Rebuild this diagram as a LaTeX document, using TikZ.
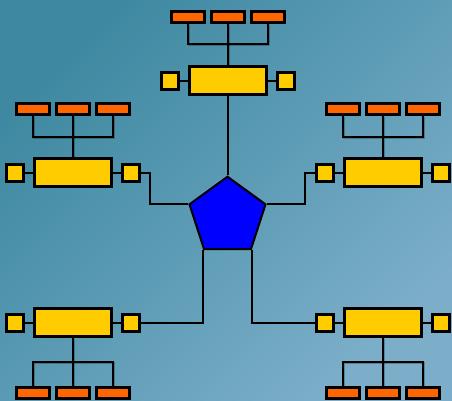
\documentclass[tikz,border=0pt]{standalone}
\usepackage{tikz}
\usetikzlibrary{shapes.geometric}
\usetikzlibrary{math}

\definecolor{BgDark}{RGB}{62,137,161}
\definecolor{BgLight}{RGB}{124,174,201}
\definecolor{BoxYellow}{RGB}{255,204,0}
\definecolor{LeafOrange}{RGB}{255,102,0}

\begin{document}
\begin{tikzpicture}[x=1pt,y=-1pt,
    bigbox/.style={draw=black, fill=BoxYellow, line width=3pt, inner sep=0pt,
        minimum width=77pt, minimum height=28pt},
    sidebox/.style={draw=black, fill=BoxYellow, line width=3pt, inner sep=0pt,
        minimum size=17pt},
    leafbox/.style={draw=black, fill=LeafOrange, line width=3pt, inner sep=0pt,
        minimum width=33pt, minimum height=11pt},
    hub/.style={draw=black, fill=blue, line width=2pt, inner sep=0pt,
        regular polygon, regular polygon sides=5, minimum size=80pt},
    link/.style={black, line width=2pt},
    tree/.style={black, line width=2pt,
        preaction={draw, black, opacity=0.25, line width=2pt,
            transform canvas={shift={(1pt,-1pt)}}}},
    ]

% Position settings
\tikzmath{
    \TopX = 227.5;
    \TopY = 80.5;
    \LeftX = 72.5;
    \RightX = 382.5;
    \UpperY = 172.8;
    \LowerY = 322.8;
    \HubY = 216.7;
    \SideShift = 58;
    \LeafStep = 40;
    \LeafUp = 64;
    \LeafDown = 70;
}

% Background
\useasboundingbox (0,0) rectangle (452,400);
\shade [top color=BgDark, bottom color=BgLight, shading angle=45]
    (0,0) rectangle (452,400);

% Centre pentagon
\node [hub] (Hub) at (\TopX,\HubY) {};

% Top cluster
\node [bigbox] (Top) at (\TopX,\TopY) {};
\node [sidebox] (TopL) at (\TopX-\SideShift,\TopY) {};
\node [sidebox] (TopR) at (\TopX+\SideShift,\TopY) {};
\node [leafbox] (TopA) at (\TopX-\LeafStep,\TopY-\LeafUp) {};
\node [leafbox] (TopB) at (\TopX,\TopY-\LeafUp) {};
\node [leafbox] (TopC) at (\TopX+\LeafStep,\TopY-\LeafUp) {};

% Upper left cluster
\node [bigbox] (UL) at (\LeftX,\UpperY) {};
\node [sidebox] (ULL) at (\LeftX-\SideShift,\UpperY) {};
\node [sidebox] (ULR) at (\LeftX+\SideShift,\UpperY) {};
\node [leafbox] (ULA) at (\LeftX-\LeafStep,\UpperY-\LeafUp) {};
\node [leafbox] (ULB) at (\LeftX,\UpperY-\LeafUp) {};
\node [leafbox] (ULC) at (\LeftX+\LeafStep,\UpperY-\LeafUp) {};

% Upper right cluster
\node [bigbox] (UR) at (\RightX,\UpperY) {};
\node [sidebox] (URL) at (\RightX-\SideShift,\UpperY) {};
\node [sidebox] (URR) at (\RightX+\SideShift,\UpperY) {};
\node [leafbox] (URA) at (\RightX-\LeafStep,\UpperY-\LeafUp) {};
\node [leafbox] (URB) at (\RightX,\UpperY-\LeafUp) {};
\node [leafbox] (URC) at (\RightX+\LeafStep,\UpperY-\LeafUp) {};

% Lower left cluster
\node [bigbox] (LL) at (\LeftX,\LowerY) {};
\node [sidebox] (LLL) at (\LeftX-\SideShift,\LowerY) {};
\node [sidebox] (LLR) at (\LeftX+\SideShift,\LowerY) {};
\node [leafbox] (LLA) at (\LeftX-\LeafStep,\LowerY+\LeafDown) {};
\node [leafbox] (LLB) at (\LeftX,\LowerY+\LeafDown) {};
\node [leafbox] (LLC) at (\LeftX+\LeafStep,\LowerY+\LeafDown) {};

% Lower right cluster
\node [bigbox] (LR) at (\RightX,\LowerY) {};
\node [sidebox] (LRL) at (\RightX-\SideShift,\LowerY) {};
\node [sidebox] (LRR) at (\RightX+\SideShift,\LowerY) {};
\node [leafbox] (LRA) at (\RightX-\LeafStep,\LowerY+\LeafDown) {};
\node [leafbox] (LRB) at (\RightX,\LowerY+\LeafDown) {};
\node [leafbox] (LRC) at (\RightX+\LeafStep,\LowerY+\LeafDown) {};

% Side boxes to main boxes
\draw [link] (TopL) -- (Top);
\draw [link] (Top) -- (TopR);
\draw [link] (ULL) -- (UL);
\draw [link] (UL) -- (ULR);
\draw [link] (URL) -- (UR);
\draw [link] (UR) -- (URR);
\draw [link] (LLL) -- (LL);
\draw [link] (LL) -- (LLR);
\draw [link] (LRL) -- (LR);
\draw [link] (LR) -- (LRR);

% Trees of leaves
\draw [tree] (TopA.south) -- ++(0,20) -| (TopC.south);
\draw [tree] (TopB.south) -- (Top.north);
\draw [tree] (ULA.south) -- ++(0,21) -| (ULC.south);
\draw [tree] (ULB.south) -- (UL.north);
\draw [tree] (URA.south) -- ++(0,21) -| (URC.south);
\draw [tree] (URB.south) -- (UR.north);
\draw [tree] (LLA.north) -- ++(0,-24) -| (LLC.north);
\draw [tree] (LLB.north) -- (LL.south);
\draw [tree] (LRA.north) -- ++(0,-24) -| (LRC.north);
\draw [tree] (LRB.north) -- (LR.south);

% Clusters to centre
\draw [link] (Hub.corner 1) -- (Top.south);
\draw [link] (ULR.east) -- ++(9.5,0) |- (Hub.corner 2);
\draw [link] (URL.west) -- ++(-9.5,0) |- (Hub.corner 5);
\draw [link] (Hub.corner 3) |- (LLR.east);
\draw [link] (Hub.corner 4) |- (LRL.west);

\end{tikzpicture}
\end{document}
